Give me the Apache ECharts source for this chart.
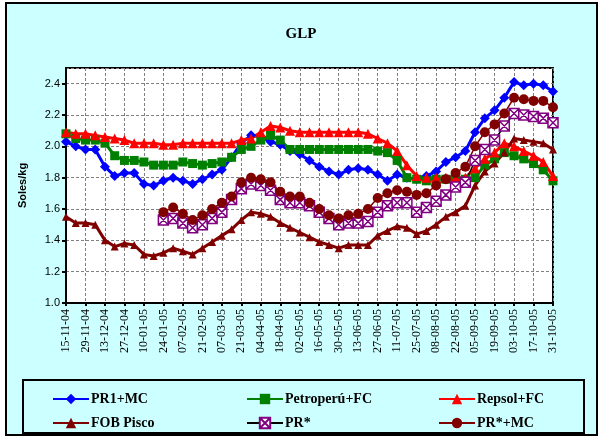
<!DOCTYPE html>
<html>
<head>
<meta charset="utf-8">
<script src="https://cdn.jsdelivr.net/npm/echarts@6/dist/echarts.min.js"></script>
<style>
  html, body { margin: 0; padding: 0; background: #fff; }
  #chart { width: 602px; height: 437px; }
</style>
</head>
<body>
<div id="chart"></div>
<script>
// semanas (lunes) de 15-11-04 a 31-10-05
var weeks = ['15-11-04','22-11-04','29-11-04','06-12-04','13-12-04','20-12-04','27-12-04',
  '03-01-05','10-01-05','17-01-05','24-01-05','31-01-05','07-02-05','14-02-05','21-02-05','28-02-05',
  '07-03-05','14-03-05','21-03-05','28-03-05','04-04-05','11-04-05','18-04-05','25-04-05',
  '02-05-05','09-05-05','16-05-05','23-05-05','30-05-05','06-06-05','13-06-05','20-06-05','27-06-05',
  '04-07-05','11-07-05','18-07-05','25-07-05','01-08-05','08-08-05','15-08-05','22-08-05','29-08-05',
  '05-09-05','12-09-05','19-09-05','26-09-05','03-10-05','10-10-05','17-10-05','24-10-05','31-10-05'];

var pr1mc = [2.03,2.00,1.98,1.98,1.87,1.81,1.83,1.83,1.76,1.75,1.78,1.80,1.78,
  1.76,1.79,1.82,1.85,1.93,2.02,2.07,2.06,2.03,2.01,1.97,1.95,1.91,
  1.87,1.84,1.82,1.85,1.86,1.85,1.82,1.78,1.82,1.80,1.79,1.81,
  1.84,1.90,1.93,1.97,2.09,2.18,2.23,2.31,2.41,2.39,2.40,2.39,2.35];

var petroperu = [2.08,2.05,2.04,2.04,2.02,1.94,1.91,1.91,1.90,1.88,1.88,1.88,1.90,
  1.89,1.88,1.89,1.90,1.93,1.98,2.00,2.04,2.07,2.04,1.98,1.98,1.98,
  1.98,1.98,1.98,1.98,1.98,1.98,1.97,1.96,1.91,1.80,1.79,1.78,
  1.79,1.79,1.79,1.79,1.80,1.88,1.92,1.96,1.94,1.92,1.89,1.85,1.78];

var repsol = [2.09,2.08,2.08,2.07,2.06,2.05,2.04,2.02,2.02,2.02,2.01,2.01,2.02,
  2.02,2.02,2.02,2.02,2.02,2.04,2.05,2.09,2.13,2.12,2.10,2.09,2.09,
  2.09,2.09,2.09,2.09,2.09,2.08,2.05,2.02,1.97,1.88,1.81,1.80,
  1.80,1.80,1.80,1.80,1.86,1.92,1.96,2.02,2.00,1.97,1.94,1.90,1.81];

var fobPisco = [1.55,1.51,1.51,1.50,1.40,1.36,1.38,1.37,1.31,1.30,1.32,1.35,1.33,
  1.31,1.35,1.39,1.43,1.47,1.53,1.58,1.57,1.55,1.51,1.48,1.45,1.42,
  1.39,1.37,1.35,1.37,1.37,1.37,1.43,1.46,1.49,1.48,1.44,1.46,
  1.50,1.55,1.58,1.62,1.75,1.84,1.89,1.96,2.05,2.04,2.03,2.02,1.98];

var prStar = [null,null,null,null,null,null,null,null,null,null,
  1.53,1.54,1.51,1.48,1.50,1.54,1.58,1.66,1.73,1.76,1.75,1.72,1.66,1.64,1.64,1.62,
  1.58,1.54,1.50,1.51,1.51,1.52,1.58,1.62,1.64,1.64,1.58,1.61,
  1.65,1.69,1.74,1.77,1.91,1.98,2.04,2.13,2.21,2.20,2.19,2.18,2.15];

var prStarMc = [null,null,null,null,null,null,null,null,null,null,
  1.58,1.61,1.57,1.53,1.56,1.60,1.64,1.68,1.77,1.80,1.79,1.77,1.71,1.68,1.68,1.64,
  1.60,1.56,1.54,1.56,1.57,1.60,1.67,1.70,1.72,1.71,1.69,1.70,
  1.75,1.79,1.83,1.87,2.00,2.09,2.14,2.21,2.31,2.30,2.29,2.29,2.25];

var serif = 'Liberation Serif';
var sans = 'Liberation Sans';

var myChart = echarts.init(document.getElementById('chart'));

function legendCol(left, names) {
  return {
    orient: 'vertical',
    left: left,
    top: 387,
    itemGap: 10,
    itemWidth: 36,
    itemHeight: 13,
    data: names,
    textStyle: { fontFamily: serif, fontWeight: 'bold', fontSize: 14, color: '#000', padding: [0, 0, 0, -3] }
  };
}

var option = {
  animation: false,
  backgroundColor: 'transparent',
  graphic: [
    { type: 'rect', z: -10, silent: true, shape: { x: 6, y: 3, width: 591, height: 432 },
      style: { fill: '#ccffff', stroke: '#000', lineWidth: 2 } },
    { type: 'rect', z: 10, silent: true, shape: { x: 23, y: 380, width: 561, height: 53 },
      style: { fill: 'none', stroke: '#000', lineWidth: 2 } }
  ],
  title: {
    text: 'GLP',
    left: 'center',
    top: 22,
    textStyle: { fontFamily: serif, fontWeight: 'bold', fontSize: 15, color: '#000' }
  },
  legend: [
    legendCol(47, ['PR1+MC', 'FOB Pisco']),
    legendCol(241, ['Petroperú+FC', 'PR*']),
    legendCol(433, ['Repsol+FC', 'PR*+MC'])
  ],
  grid: {
    left: 66, right: 49, top: 68, bottom: 134,
    show: true, backgroundColor: '#fff', borderColor: '#000', borderWidth: 2
  },
  xAxis: {
    type: 'category',
    data: weeks,
    boundaryGap: false,
    axisLine: { lineStyle: { color: '#000', width: 2 } },
    axisTick: { show: true, interval: 1, length: 3, lineStyle: { color: '#000', width: 2 } },
    axisLabel: { interval: 1, rotate: 90, fontFamily: serif, fontSize: 12, color: '#000', margin: 6 },
    splitLine: { show: true, interval: 1, lineStyle: { color: '#808080', type: [3, 2], width: 1 } }
  },
  yAxis: {
    type: 'value',
    min: 1.0,
    max: 2.5,
    interval: 0.2,
    name: 'Soles/kg',
    nameLocation: 'middle',
    nameGap: 38,
    nameTextStyle: { fontFamily: sans, fontWeight: 'bold', fontSize: 11, color: '#000' },
    axisLine: { show: true, lineStyle: { color: '#000', width: 2 } },
    axisTick: { show: true, length: 4, lineStyle: { color: '#000', width: 2 } },
    axisLabel: { showMaxLabel: false, fontFamily: sans, fontSize: 11, color: '#000', margin: 6,
      formatter: function (v) { return v.toFixed(1); } },
    splitLine: { show: true, lineStyle: { color: '#808080', type: [3, 2], width: 1 } }
  },
  series: [
    {
      name: 'PR1+MC', type: 'line', data: pr1mc, showAllSymbol: true,
      symbol: 'diamond', symbolSize: 10,
      itemStyle: { color: '#0000ff' },
      lineStyle: { color: '#0000ff', width: 3 }
    },
    {
      name: 'Petroperú+FC', type: 'line', data: petroperu, showAllSymbol: true,
      symbol: 'rect', symbolSize: 9,
      itemStyle: { color: '#008000' },
      lineStyle: { color: '#008000', width: 3 }
    },
    {
      name: 'Repsol+FC', type: 'line', data: repsol, showAllSymbol: true,
      symbol: 'triangle', symbolSize: 10,
      itemStyle: { color: '#ff0000' },
      lineStyle: { color: '#ff0000', width: 3 }
    },
    {
      name: 'FOB Pisco', type: 'line', data: fobPisco, showAllSymbol: true,
      symbol: 'triangle', symbolSize: 8,
      itemStyle: { color: '#800000' },
      lineStyle: { color: '#800000', width: 3 }
    },
    {
      name: 'PR*', type: 'line', data: prStar, showAllSymbol: true,
      symbol: 'path://M0,0L10,0L10,10L0,10Z M0,0L10,10 M10,0L0,10', symbolSize: 10,
      itemStyle: { color: '#ffffff', borderColor: '#800080', borderWidth: 1.5 },
      lineStyle: { color: '#000000', width: 1.5 }
    },
    {
      name: 'PR*+MC', type: 'line', data: prStarMc, showAllSymbol: true,
      symbol: 'circle', symbolSize: 10,
      itemStyle: { color: '#800000' },
      lineStyle: { color: '#800000', width: 1.5 }
    }
  ]
};

myChart.setOption(option);
</script>
</body>
</html>
